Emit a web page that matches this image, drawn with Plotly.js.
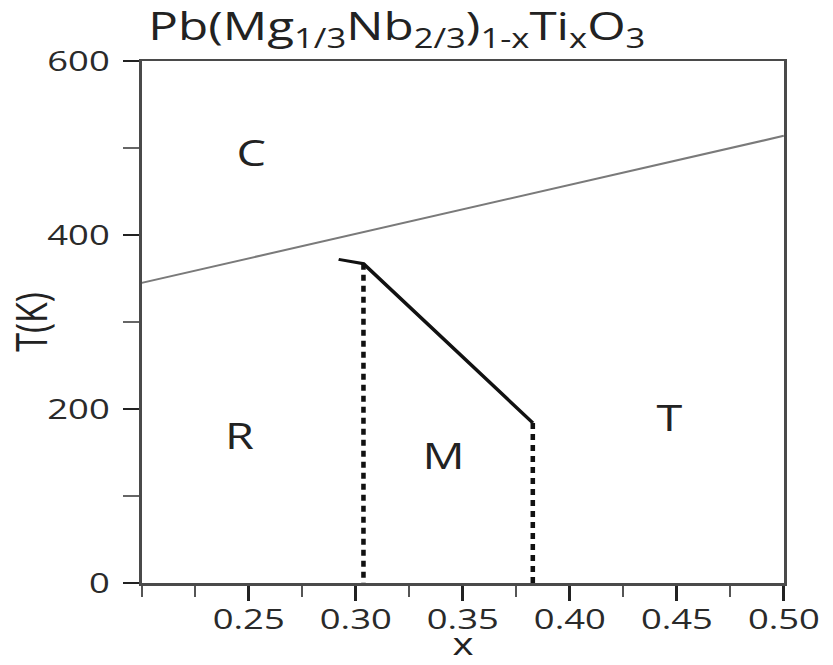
<!DOCTYPE html>
<html>
<head>
<meta charset="utf-8">
<script src="https://cdn.plot.ly/plotly-3.0.1.min.js"></script>
<style>
  html, body { margin: 0; padding: 0; background: #fff; overflow: hidden; }
  #wrap { width: 833px; height: 665px; overflow: hidden; }
  #chart { width: 641px; height: 665px; transform: scaleX(1.3); transform-origin: 0 0; }
</style>
</head>
<body>
<div id="wrap"><div id="chart"></div></div>
<script>
// Data
const cBoundaryX = [0.2, 0.5];
const cBoundaryT = [345, 514];
const rmBoundaryX = [0.292, 0.3036, 0.3827];
const rmBoundaryT = [372, 367, 184];
const leftDottedX = [0.3036, 0.3036];
const leftDottedT = [367, 0];
const rightDottedX = [0.3827, 0.3827];
const rightDottedT = [184, 0];
const regionNames = ["C", "R", "M", "T"];
const regionX = [0.2514, 0.2458, 0.3407, 0.4463];
const regionT = [495, 170, 147, 190];
const xTickVals = [0.25, 0.30, 0.35, 0.40, 0.45, 0.50];
const xTickText = ["0.25", "0.30", "0.35", "0.40", "0.45", "0.50"];
const yTickVals = [0, 200, 400, 600];
const yTickText = ["0", "200", "400", "600"];
const xAxisTitle = "x";
const yAxisTitle = "T(K)";

const FONT = "Open Sans, Noto Sans, sans-serif";
const axisColor = "#4a4a4a";

const traces = [
  { x: cBoundaryX, y: cBoundaryT, mode: "lines", line: { color: "#7a7a7a", width: 2 }, hoverinfo: "skip" },
  { x: rmBoundaryX, y: rmBoundaryT, mode: "lines", line: { color: "#111", width: 3 }, hoverinfo: "skip" },
  { x: leftDottedX, y: leftDottedT, mode: "lines", line: { color: "#111", width: 3.5, dash: "6px,5px" }, hoverinfo: "skip" },
  { x: rightDottedX, y: rightDottedT, mode: "lines", line: { color: "#111", width: 3.5, dash: "6px,5px" }, hoverinfo: "skip" }
];

const annotations = regionNames.map((n, i) => ({
  x: regionX[i], y: regionT[i], xref: "x", yref: "y", text: n, showarrow: false,
  font: { family: FONT, size: 36, color: "#222" }
}));
// x-axis title, placed below the tick labels
annotations.push({
  x: 0.5, y: -0.115, xref: "paper", yref: "paper", text: xAxisTitle, showarrow: false,
  yanchor: "middle", font: { family: FONT, size: 31, color: "#222" }
});

const layout = {
  width: 641, height: 665,
  margin: { l: 109, r: 38, t: 61, b: 82 },
  paper_bgcolor: "#fff", plot_bgcolor: "#fff",
  showlegend: false,
  title: {
    text: "Pb(Mg<sub>1/3</sub>Nb<sub>2/3</sub>)<sub>1-x</sub>Ti<sub>x</sub>O<sub>3</sub>",
    font: { family: FONT, size: 38, color: "#222" },
    xref: "container", x: 0.178, xanchor: "left",
    yref: "container", y: 1 - 27 / 665, yanchor: "middle"
  },
  xaxis: {
    range: [0.2, 0.5], tickvals: xTickVals, ticktext: xTickText,
    ticks: "outside", ticklen: 15, tickwidth: 2.3, tickcolor: "#222",
    minor: { dtick: 0.025, tick0: 0.2, ticks: "outside", ticklen: 11, tickwidth: 1.5, tickcolor: "#555" },
    showline: true, linecolor: axisColor, linewidth: 2.5, mirror: true,
    showgrid: false, zeroline: false,
    ticklabelstandoff: -5,
    tickfont: { family: FONT, size: 28, color: "#2a2a2a" }
  },
  yaxis: {
    range: [0, 600], tickvals: yTickVals, ticktext: yTickText,
    ticks: "outside", ticklen: 12, tickwidth: 2.5, tickcolor: "#222",
    minor: { dtick: 100, ticks: "outside", ticklen: 12, tickwidth: 1.3, tickcolor: "#666" },
    showline: true, linecolor: axisColor, linewidth: 2, mirror: true,
    showgrid: false, zeroline: false,
    tickfont: { family: FONT, size: 28, color: "#2a2a2a" },
    ticklabelstandoff: 5,
    title: { text: yAxisTitle, font: { family: FONT, size: 34, color: "#222" }, standoff: 6 }
  },
  annotations: annotations
};

Plotly.newPlot("chart", traces, layout, { staticPlot: true, displayModeBar: false });
</script>
</body>
</html>
